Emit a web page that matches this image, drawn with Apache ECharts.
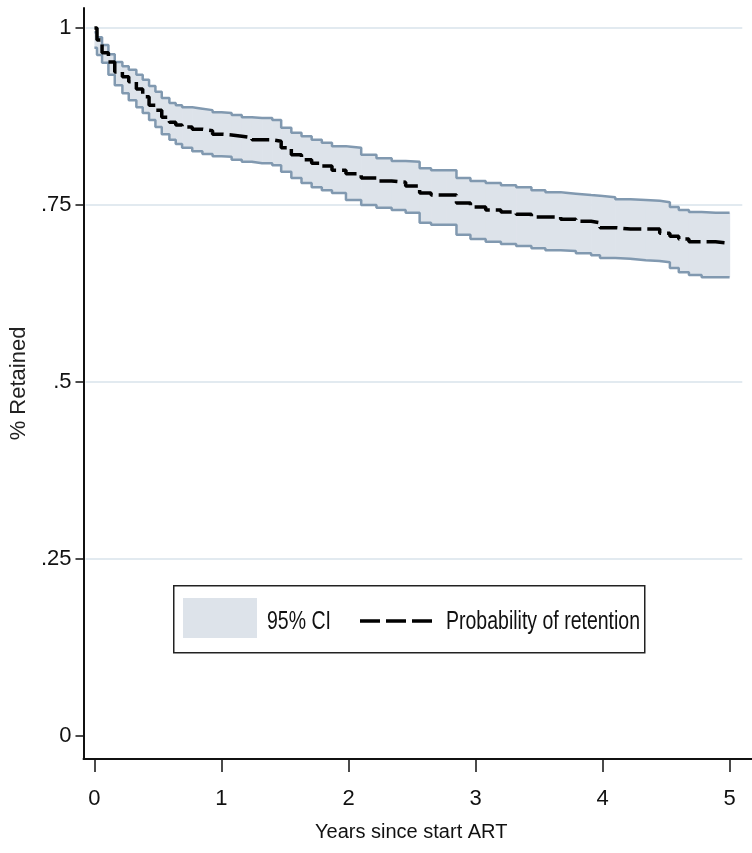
<!DOCTYPE html>
<html>
<head>
<meta charset="utf-8">
<script src="https://cdn.jsdelivr.net/npm/echarts@6/dist/echarts.min.js"></script>
<style>
html,body{margin:0;padding:0;background:#fff;}
#chart{width:752px;height:853px;}
</style>
</head>
<body>
<div id="chart"></div>
<script>
// Time since start of ART (years)
const years = [0, 0.02, 0.06, 0.11, 0.16, 0.22, 0.27, 0.33, 0.38, 0.43, 0.48, 0.53, 0.59, 0.64, 0.69, 0.77, 0.85, 0.93, 1.00, 1.08, 1.16, 1.24, 1.32, 1.40, 1.47, 1.55, 1.63, 1.71, 1.79, 1.87, 1.98, 2.10, 2.22, 2.34, 2.45, 2.56, 2.65, 2.77, 2.85, 2.96, 3.08, 3.20, 3.32, 3.44, 3.55, 3.67, 3.79, 3.91, 3.98, 4.10, 4.22, 4.34, 4.45, 4.53, 4.60, 4.68, 4.78, 4.89, 5.00];
// Probability of retention (Kaplan-Meier estimate)
const retention = [1.000, 0.983, 0.965, 0.952, 0.938, 0.931, 0.924, 0.914, 0.903, 0.891, 0.884, 0.874, 0.867, 0.863, 0.860, 0.857, 0.855, 0.850, 0.849, 0.847, 0.845, 0.842, 0.842, 0.840, 0.831, 0.821, 0.814, 0.809, 0.805, 0.799, 0.794, 0.788, 0.784, 0.782, 0.777, 0.767, 0.764, 0.764, 0.753, 0.747, 0.743, 0.740, 0.737, 0.733, 0.733, 0.730, 0.727, 0.725, 0.718, 0.716, 0.716, 0.716, 0.710, 0.706, 0.702, 0.698, 0.698, 0.696, 0.696];
// 95% CI upper bound
const ciUpper = [0.994, 0.987, 0.976, 0.963, 0.952, 0.946, 0.941, 0.934, 0.927, 0.918, 0.910, 0.901, 0.894, 0.891, 0.888, 0.886, 0.884, 0.881, 0.880, 0.877, 0.874, 0.873, 0.873, 0.870, 0.859, 0.852, 0.847, 0.842, 0.838, 0.833, 0.831, 0.821, 0.816, 0.812, 0.811, 0.802, 0.799, 0.799, 0.788, 0.784, 0.781, 0.778, 0.775, 0.771, 0.768, 0.766, 0.764, 0.763, 0.761, 0.758, 0.757, 0.756, 0.754, 0.747, 0.743, 0.740, 0.739, 0.739, 0.739];
// 95% CI lower bound
const ciLower = [0.972, 0.962, 0.951, 0.934, 0.919, 0.908, 0.898, 0.888, 0.880, 0.870, 0.860, 0.850, 0.842, 0.836, 0.831, 0.826, 0.822, 0.819, 0.818, 0.814, 0.811, 0.809, 0.809, 0.806, 0.797, 0.788, 0.781, 0.775, 0.771, 0.767, 0.757, 0.750, 0.746, 0.743, 0.739, 0.725, 0.722, 0.722, 0.708, 0.702, 0.698, 0.695, 0.692, 0.689, 0.686, 0.685, 0.682, 0.679, 0.675, 0.674, 0.672, 0.671, 0.669, 0.661, 0.655, 0.651, 0.648, 0.648, 0.648];
// Axis ticks
const xTicks = [0, 1, 2, 3, 4, 5];
const xTickLabels = ['0', '1', '2', '3', '4', '5'];
const yTicks = [0, 0.25, 0.5, 0.75, 1];
const yTickLabels = ['0', '.25', '.5', '.75', '1'];
const yGridValues = [0.25, 0.5, 0.75, 1];
const gridSpan = [-0.07, 5.1];

const FONT = "'Liberation Sans',Arial,sans-serif";
const BAND = '#dde3ea';
const CI_LINE = '#8199b0';

const loData = years.map((t, i) => [t, ciLower[i]]);
const upData = years.map((t, i) => [t, ciUpper[i]]);
const estData = years.map((t, i) => [t, retention[i]]);
// band steps: [t, lower, upper, next t]
const bandData = years.slice(0, -1).map((t, i) => [t, ciLower[i], ciUpper[i], years[i + 1]]);

const chart = echarts.init(document.getElementById('chart'), null, {renderer: 'canvas'});
chart.setOption({
  animation: false,
  backgroundColor: '#fff',
  grid: {left: 81, right: 0, top: 8, bottom: 94, containLabel: false},
  xAxis: {
    type: 'value',
    min: -0.08627, max: 5.1765,
    name: 'Years since start ART',
    nameLocation: 'middle',
    nameGap: 63,
    nameTextStyle: {fontFamily: FONT, fontSize: 20, color: '#111', padding: [0, 13, 0, 0]},
    axisLine: {show: true, onZero: false, lineStyle: {color: '#111', width: 2}},
    axisTick: {show: true, inside: false, length: 13, customValues: xTicks, lineStyle: {color: '#111', width: 1.5}},
    axisLabel: {show: true, customValues: xTicks, margin: 29, fontFamily: FONT, fontSize: 22, color: '#111',
      formatter: v => xTickLabels[xTicks.indexOf(Math.round(v))] },
    splitLine: {show: false}
  },
  yAxis: {
    type: 'value',
    min: -0.03249, max: 1.02825,
    name: '% Retained',
    nameLocation: 'middle',
    nameGap: 52,
    nameRotate: 90,
    nameTextStyle: {fontFamily: FONT, fontSize: 22, color: '#222'},
    axisLine: {show: true, onZero: false, lineStyle: {color: '#111', width: 2}},
    axisTick: {show: true, inside: false, length: 8, customValues: yTicks, lineStyle: {color: '#111', width: 1.5}},
    axisLabel: {show: true, customValues: yTicks, margin: 12, fontFamily: FONT, fontSize: 22, color: '#111',
      formatter: v => { const i = yTicks.findIndex(y => Math.abs(y - v) < 1e-6); return i >= 0 ? yTickLabels[i] : ''; } },
    splitLine: {show: false}
  },
  series: [
    {
      name: 'grid', type: 'line', data: [], z: 1, silent: true,
      markLine: {
        z: 1, silent: true, symbol: ['none', 'none'], label: {show: false},
        lineStyle: {color: '#e2eaf0', width: 2, type: 'solid'},
        data: yGridValues.map(v => [{coord: [gridSpan[0], v]}, {coord: [gridSpan[1], v]}])
      }
    },
    {
      name: '95% CI', type: 'custom', z: 2, silent: true,
      data: bandData,
      encode: {x: [0, 3], y: [1, 2]},
      renderItem: function (params, api) {
        const a = api.coord([api.value(0), api.value(2)]);
        const b = api.coord([api.value(3), api.value(1)]);
        return {
          type: 'rect',
          shape: {x: a[0], y: a[1], width: b[0] - a[0] + 0.6, height: b[1] - a[1]},
          style: {fill: BAND}
        };
      }
    },
    {
      name: 'ciLower', type: 'line', step: 'end', data: loData, z: 3,
      symbol: 'none', lineStyle: {color: CI_LINE, width: 2.5}, silent: true
    },
    {
      name: 'ciUpper', type: 'line', step: 'end', data: upData, z: 3,
      symbol: 'none', lineStyle: {color: CI_LINE, width: 2.5}, silent: true
    },
    {
      name: 'Probability of retention', type: 'line', step: 'end', data: estData, z: 4,
      symbol: 'none', lineStyle: {color: '#000', width: 3.5, type: [18, 6]}, silent: true
    }
  ],
  graphic: [
    {type: 'rect', left: 173, top: 585, z: 10, shape: {width: 471, height: 67}, style: {fill: '#fff', stroke: '#222', lineWidth: 1.5}},
    {type: 'rect', left: 183, top: 598, z: 11, shape: {width: 74, height: 40}, style: {fill: BAND}},
    {type: 'text', x: 267, y: 622, scaleY: 1.35, z: 11, style: {text: '95% CI', fontFamily: FONT, fontSize: 19.5, fill: '#111', verticalAlign: 'middle'}},
    {type: 'line', z: 11, shape: {x1: 360, y1: 621, x2: 435, y2: 621}, style: {stroke: '#000', lineWidth: 3.5, lineDash: [20, 6]}},
    {type: 'text', x: 446, y: 622, scaleY: 1.35, z: 11, style: {text: 'Probability of retention', fontFamily: FONT, fontSize: 19.5, fill: '#111', verticalAlign: 'middle'}}
  ]
});
</script>
</body>
</html>
